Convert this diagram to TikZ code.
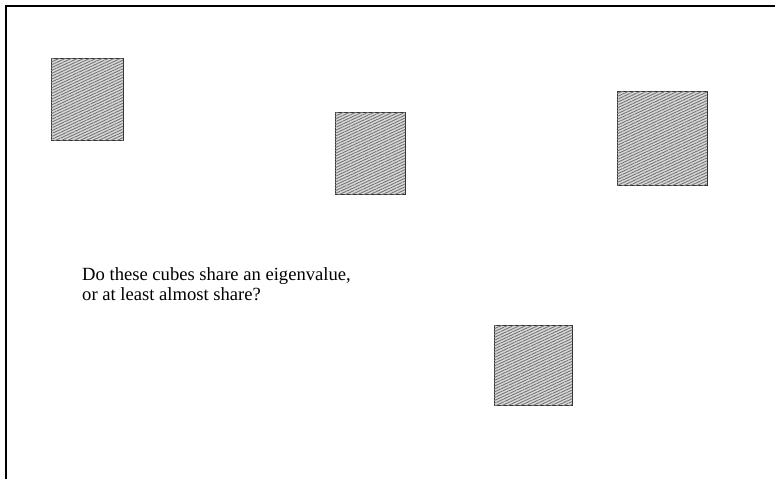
\documentclass[tikz,border=0pt]{standalone}
\usepackage{fontspec}
\setmainfont{Liberation Serif}
\usetikzlibrary{patterns.meta}
\begin{document}
\begin{tikzpicture}[x=1pt,y=1pt,
  cube/.style={draw=black!80, line width=1pt, fill=gray!30,
    postaction={pattern={Lines[angle=25,distance=2.6pt,line width=0.9pt]}, pattern color=black!55}},
  frameline/.style={line width=2pt, draw=black}]
\useasboundingbox (0,0) rectangle (775,479);
\draw[frameline] (6,0) -- (6,473) -- (776,473);
\draw[cube] (51,338) rectangle (123,420);
\draw[cube] (335,284) rectangle (405,366);
\draw[cube] (617,293) rectangle (707,387);
\draw[cube] (494,74) rectangle (572,153);
\node[anchor=base west, inner sep=0pt, align=left, font=\fontsize{18.6}{19.5}\selectfont] (txt) at (82,178.5) {Do these cubes share an eigenvalue,\\or at least almost share?};
\end{tikzpicture}
\end{document}
